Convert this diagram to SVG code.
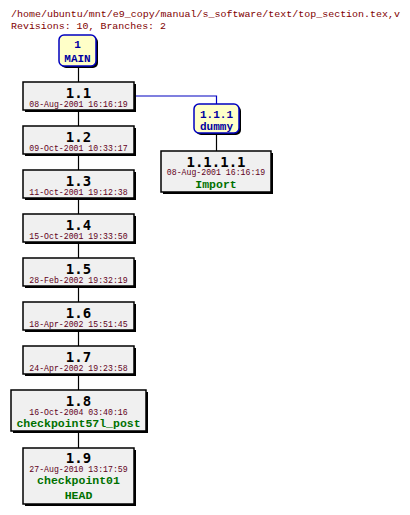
<svg xmlns="http://www.w3.org/2000/svg" width="410" height="515" viewBox="0 0 410 515">
<style>
.hdr{font-family:"Liberation Mono","DejaVu Sans Mono",monospace;font-size:9.8px;fill:#800000}
.box{fill:#f0f0f0;stroke:#000;stroke-width:1.5}
.shadow{fill:#000}
.br{fill:#ffffc8;stroke:#0000c0;stroke-width:1.5}
.num{font-family:"DejaVu Sans Mono","Liberation Mono",monospace;font-size:14px;font-weight:bold;fill:#000;text-anchor:middle}
.date{font-family:"Liberation Mono","DejaVu Sans Mono",monospace;font-size:8.2px;fill:#600020;text-anchor:middle}
.tag{font-family:"Liberation Mono","DejaVu Sans Mono",monospace;font-size:11.5px;font-weight:bold;fill:#007000;text-anchor:middle}
.blab{font-family:"Liberation Mono","DejaVu Sans Mono",monospace;font-size:11px;font-weight:bold;fill:#0000a0;text-anchor:middle}
.ln{stroke:#000;stroke-width:1.2;fill:none}
.bln{stroke:#0000c0;stroke-width:1.2;fill:none}
</style>
<rect width="410" height="515" fill="#fff"/>
<text class="hdr" x="11" y="17" textLength="389" lengthAdjust="spacingAndGlyphs">/home/ubuntu/mnt/e9_copy/manual/s_software/text/top_section.tex,v</text>
<text class="hdr" x="11" y="29" textLength="155" lengthAdjust="spacingAndGlyphs">Revisions: 10, Branches: 2</text>
<g id="connectors">
<line class="ln" x1="78.5" y1="66" x2="78.5" y2="82"/>
<line class="ln" x1="78.5" y1="111" x2="78.5" y2="126"/>
<line class="ln" x1="78.5" y1="155" x2="78.5" y2="170"/>
<line class="ln" x1="78.5" y1="199" x2="78.5" y2="214"/>
<line class="ln" x1="78.5" y1="243" x2="78.5" y2="258"/>
<line class="ln" x1="78.5" y1="287" x2="78.5" y2="302"/>
<line class="ln" x1="78.5" y1="331" x2="78.5" y2="346"/>
<line class="ln" x1="78.5" y1="375" x2="78.5" y2="390"/>
<line class="ln" x1="78.5" y1="433" x2="78.5" y2="448"/>
<polyline class="bln" points="134,96 216.5,96 216.5,104"/>
<line class="ln" x1="216.5" y1="134" x2="216.5" y2="151"/>
</g>
<g id="main">
<rect class="shadow" x="61" y="37" width="37" height="31" rx="5"/>
<rect class="br" x="59" y="35" width="37" height="31" rx="5"/>
<text class="blab" x="77.5" y="48">1</text>
<text class="blab" x="77.5" y="62">MAIN</text>
</g>
<g id="r1_1">
<rect class="shadow" x="25" y="84" width="111" height="28"/>
<rect class="box" x="23" y="82" width="111" height="28"/>
<text class="num" x="78.5" y="98">1.1</text>
<text class="date" x="78.5" y="107">08-Aug-2001 16:16:19</text>
</g>
<g id="r1_2">
<rect class="shadow" x="25" y="128" width="111" height="28"/>
<rect class="box" x="23" y="126" width="111" height="28"/>
<text class="num" x="78.5" y="142">1.2</text>
<text class="date" x="78.5" y="151">09-Oct-2001 10:33:17</text>
</g>
<g id="r1_3">
<rect class="shadow" x="25" y="172" width="111" height="28"/>
<rect class="box" x="23" y="170" width="111" height="28"/>
<text class="num" x="78.5" y="186">1.3</text>
<text class="date" x="78.5" y="195">11-Oct-2001 19:12:38</text>
</g>
<g id="r1_4">
<rect class="shadow" x="25" y="216" width="111" height="28"/>
<rect class="box" x="23" y="214" width="111" height="28"/>
<text class="num" x="78.5" y="230">1.4</text>
<text class="date" x="78.5" y="239">15-Oct-2001 19:33:50</text>
</g>
<g id="r1_5">
<rect class="shadow" x="25" y="260" width="111" height="28"/>
<rect class="box" x="23" y="258" width="111" height="28"/>
<text class="num" x="78.5" y="274">1.5</text>
<text class="date" x="78.5" y="283">28-Feb-2002 19:32:19</text>
</g>
<g id="r1_6">
<rect class="shadow" x="25" y="304" width="111" height="28"/>
<rect class="box" x="23" y="302" width="111" height="28"/>
<text class="num" x="78.5" y="318">1.6</text>
<text class="date" x="78.5" y="327">18-Apr-2002 15:51:45</text>
</g>
<g id="r1_7">
<rect class="shadow" x="25" y="348" width="111" height="28"/>
<rect class="box" x="23" y="346" width="111" height="28"/>
<text class="num" x="78.5" y="362">1.7</text>
<text class="date" x="78.5" y="371">24-Apr-2002 19:23:58</text>
</g>
<g id="r1_8">
<rect class="shadow" x="13" y="392" width="135" height="41"/>
<rect class="box" x="11" y="390" width="135" height="41"/>
<text class="num" x="78.5" y="406">1.8</text>
<text class="date" x="78.5" y="414.5">16-Oct-2004 03:40:16</text>
<text class="tag" x="78.5" y="426.5">checkpoint57l_post</text>
</g>
<g id="r1_9">
<rect class="shadow" x="25" y="450" width="111" height="56"/>
<rect class="box" x="23" y="448" width="111" height="56"/>
<text class="num" x="78.5" y="463">1.9</text>
<text class="date" x="78.5" y="472">27-Aug-2010 13:17:59</text>
<text class="tag" x="78.5" y="484">checkpoint01</text>
<text class="tag" x="78.5" y="498.5">HEAD</text>
</g>
<g id="b1_1_1">
<rect class="shadow" x="196" y="106" width="45" height="29" rx="5"/>
<rect class="br" x="194" y="104" width="45" height="29" rx="5"/>
<text class="blab" x="216.5" y="117.5">1.1.1</text>
<text class="blab" x="216.5" y="130">dummy</text>
</g>
<g id="r1_1_1_1">
<rect class="shadow" x="163" y="153" width="110" height="41"/>
<rect class="box" x="161" y="151" width="110" height="41"/>
<text class="num" x="216" y="166.5">1.1.1.1</text>
<text class="date" x="216" y="175">08-Aug-2001 16:16:19</text>
<text class="tag" x="216" y="187.5">Import</text>
</g>
</svg>
